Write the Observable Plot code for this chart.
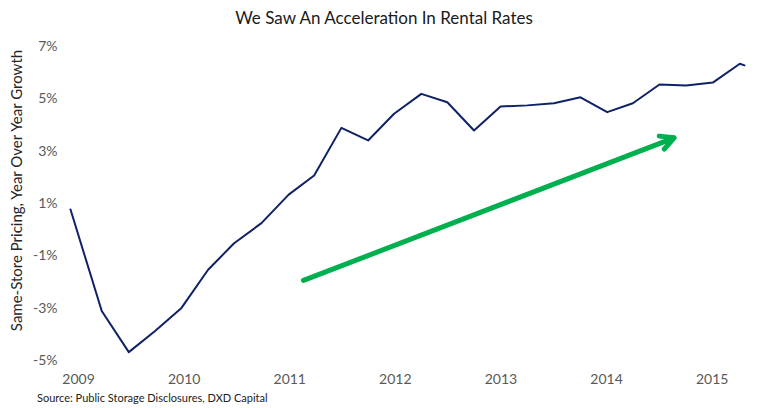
<!DOCTYPE html>
<html><head><meta charset="utf-8">
<script src="https://cdn.jsdelivr.net/npm/d3@7"></script>
<script src="https://cdn.jsdelivr.net/npm/@observablehq/plot@0.6"></script>
<style>
body{margin:0;background:#fff;font-family:Lato, "Open Sans", sans-serif;}
#wrap{width:768px;height:408px;position:relative;overflow:hidden;background:#fff}
#title{height:36px;line-height:36px;text-align:center;font-size:17px;color:#1a1a1a}
#chart{height:352px}
#source{position:absolute;left:37px;top:390px;font-size:11px;line-height:16px;color:#222}
</style></head><body>
<div id="wrap">
<div id="title">We Saw An Acceleration In Rental Rates</div>
<div id="chart"></div>
<div id="source">Source: Public Storage Disclosures, DXD Capital</div>
</div>
<script>
// Quarter positions (fractional years) and same-store pricing YoY growth (%)
const quarterYears = [2008.924, 2009.22, 2009.476, 2009.722, 2009.975, 2010.227, 2010.473, 2010.732, 2010.99,
  2011.231, 2011.489, 2011.742, 2011.988, 2012.246, 2012.492, 2012.745, 2012.996,
  2013.249, 2013.502, 2013.753, 2014.006, 2014.249, 2014.501, 2014.754, 2015.006, 2015.262, 2015.306];
const pricingGrowth = [0.77, -3.11, -4.68, -3.88, -2.99, -1.53, -0.52, 0.25, 1.34,
  2.07, 3.89, 3.41, 4.43, 5.19, 4.87, 3.79, 4.71,
  4.75, 4.83, 5.06, 4.49, 4.83, 5.55, 5.51, 5.62, 6.34, 6.28];
const yearTicks = [2009, 2010, 2011, 2012, 2013, 2014, 2015];
const growthTicks = [-5, -3, -1, 1, 3, 5, 7];
// Trend arrow annotation (data units)
const arrowStart = [2011.13, -1.94];
const arrowEnd = [2014.64, 3.51];
const yLabel = "Same-Store Pricing, Year Over Year Growth";

const series = quarterYears.map((x, i) => ({x, v: pricingGrowth[i]}));
const trend = [{x1: arrowStart[0], y1: arrowStart[1], x2: arrowEnd[0], y2: arrowEnd[1]}];

const chart = Plot.plot({
  width: 768,
  height: 352,
  marginLeft: 70,
  marginRight: 24,
  marginTop: 10,
  marginBottom: 28,
  x: {domain: [2008.924, 2015.306]},
  y: {domain: [-5, 7]},
  style: {fontFamily: "Lato, 'Open Sans', sans-serif", fontSize: "14px", color: "#595959", background: "#fff", overflow: "visible"},
  marks: [
    Plot.axisX({ticks: yearTicks, tickFormat: d => String(d), tickSize: 0, tickPadding: 14, label: null}),
    Plot.axisY({ticks: growthTicks, tickFormat: d => d + "%", tickSize: 0, tickPadding: 13, label: null}),
    Plot.line(series, {x: "x", y: "v", stroke: "#0f2167", strokeWidth: 2}),
    Plot.arrow(trend, {x1: "x1", y1: "y1", x2: "x2", y2: "y2", stroke: "#00b04f", strokeWidth: 5, headLength: 4.5, headAngle: 55}),
    Plot.text([yLabel], {frameAnchor: "left", textAnchor: "middle", rotate: -90, dx: -53, dy: -13, fontSize: 15, fill: "#262626"})
  ]
});
document.getElementById("chart").appendChild(chart);
</script>
</body></html>
